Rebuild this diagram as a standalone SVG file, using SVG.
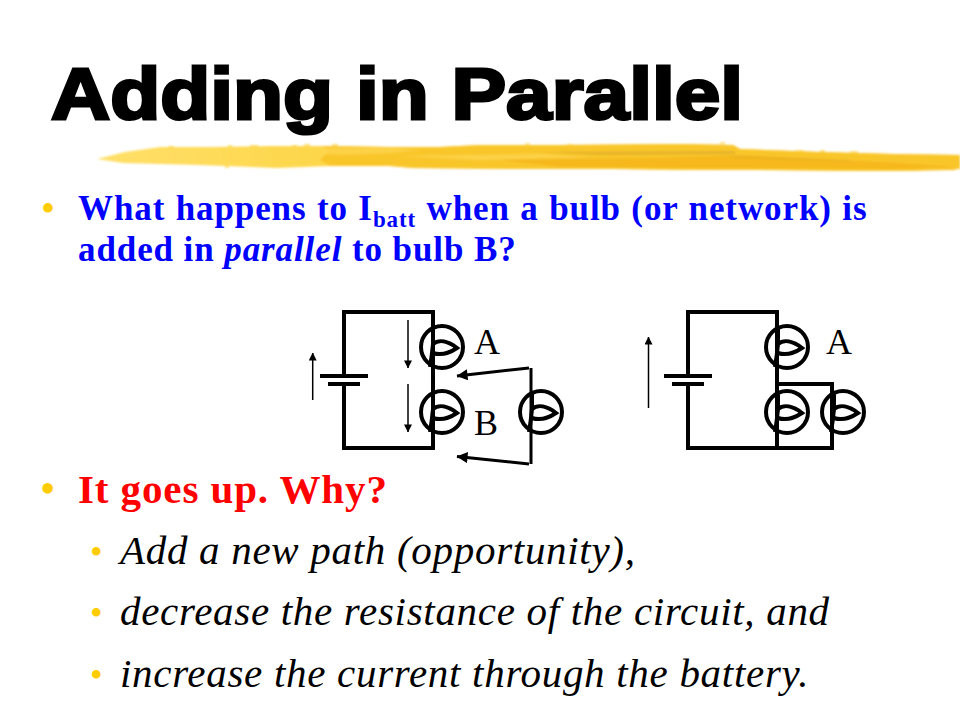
<svg xmlns="http://www.w3.org/2000/svg" width="960" height="720" viewBox="0 0 960 720">
<style>
.w{fill:none;stroke:#000;stroke-width:4;stroke-linecap:square;stroke-linejoin:miter}
.c{fill:none;stroke:#000;stroke-width:4}
.e{fill:none;stroke:#000;stroke-width:4}
.t{fill:none;stroke:#000;stroke-width:1.500}
.h{fill:none;stroke:#000;stroke-width:3}
.s{font-family:"Liberation Serif",serif}
.b{font-weight:bold;font-size:35px;fill:#0000ff;letter-spacing:.9px}
.i{font-style:italic;font-size:41px;fill:#000;letter-spacing:.7px}
.d{fill:#ffcc00}
.lb{font-size:36px;fill:#000}
.sp{fill:#fbd24a;opacity:.7}
</style>
<defs>
<linearGradient id="br" x1="0" x2="1" y1="0" y2="0">
<stop offset="0" stop-color="#ffe06a"/><stop offset=".27" stop-color="#fdd648"/><stop offset=".5" stop-color="#fbcc34"/><stop offset="1" stop-color="#f9bd22"/>
</linearGradient>
<filter id="soft" x="-2%" y="-30%" width="104%" height="160%"><feGaussianBlur stdDeviation="0.800"/></filter>
<marker id="ah" viewBox="0 0 10 10" refX="9.500" refY="5" markerWidth="8" markerHeight="8" markerUnits="userSpaceOnUse" orient="auto"><path d="M0 0L10 5L0 10Z" fill="#000"/></marker>
<marker id="ab" viewBox="0 0 12 12" refX="11.500" refY="6" markerWidth="12" markerHeight="11" markerUnits="userSpaceOnUse" orient="auto"><path d="M0 0L12 6L0 12Z" fill="#000"/></marker>
<g id="bulb"><circle r="21" class="e"/><path class="e" d="M-9 -21L-9 -3Q-10 8 -12 20"/><path class="e" d="M-9 -3C-3 -8 6 -6 15 1C6 7 -3 8 -9 6"/></g>
</defs>
<g id="brush" filter="url(#soft)">
<path fill="url(#br)" d="M97 159L125 152L160 147L210 147L270 146L323 146L390 147L440 147L480 145L560 145L680 144L733 145L740 149L820 152L893 154L960 155L960 162L955 170L900 171L860 171L760 170L680 170L613 169L513 169L413 168L390 166L330 166L277 168L200 165L123 163Z"/>
<path fill="#f9c62c" d="M323 146L390 147L440 147L480 145L560 145L680 144L733 145L740 149L820 152L893 154L960 155L960 169L900 171L760 170L613 169L513 169L413 168L390 166L330 166L320 160L328 152Z"/>
<path fill="#ffdb58" d="M323 148L390 148L420 150L390 153L340 155L325 154Z" opacity=".6"/>
<path fill="#d8a92a" d="M540 152L735 151L735 154L600 155Z" opacity=".6"/>
<path fill="#f5b41c" d="M500 160L660 158L740 155L900 163L955 167L900 169L700 168L560 167Z" opacity=".8"/>
<path fill="#ffdb58" d="M400 156L540 154L590 157L480 160Z" opacity=".6"/>
<path fill="#e2ae25" d="M730 156L850 160L850 161L735 158Z" opacity=".7"/>
<g class="sp">
<rect x="168" y="146" width="6" height="2"/><rect x="228" y="145" width="4" height="2"/><rect x="250" y="145" width="8" height="2"/><rect x="292" y="145" width="5" height="2"/><rect x="304" y="144" width="6" height="2"/><rect x="332" y="144" width="6" height="2"/><rect x="525" y="143" width="5" height="1.500"/><rect x="567" y="144" width="7" height="1.500"/><rect x="720" y="142" width="5" height="2"/><rect x="795" y="150" width="9" height="2"/><rect x="820" y="150" width="5" height="2"/><rect x="850" y="151" width="8" height="2"/><rect x="225" y="166" width="4" height="2"/>
</g>
</g>
<text x="51" y="119" font-family="'Liberation Sans',sans-serif" font-weight="bold" font-size="72" fill="#000" stroke="#000" stroke-width="3" textLength="692" lengthAdjust="spacingAndGlyphs">Adding in Parallel</text>
<text x="41" y="222" class="s d" font-size="40">•</text>
<text x="78" y="220" class="s b" xml:space="preserve" word-spacing=".8">What happens to I<tspan font-size="23" dy="7">batt</tspan><tspan dy="-7"> when a bulb (or network) is</tspan></text>
<text x="78" y="261" class="s b">added in <tspan font-style="italic">parallel</tspan> to bulb B?</text>
<text x="40" y="503" class="s d" font-size="44">•</text>
<text x="78" y="503" class="s" font-weight="bold" font-size="41" fill="#ff0000" letter-spacing=".9">It goes up. Why?</text>
<text x="90" y="564" class="s d" font-size="36">•</text>
<text x="120" y="564" class="s i">Add a new path (opportunity),</text>
<text x="90" y="625" class="s d" font-size="36">•</text>
<text x="120" y="625" class="s i">decrease the resistance of the circuit, and</text>
<text x="90" y="687" class="s d" font-size="36">•</text>
<text x="120" y="687" class="s i">increase the current through the battery.</text>
<g id="connectors">
<path class="w" d="M344 376V312H433V448H344V384"/>
<path class="c" d="M320 376H368M328 384H360"/>
<path class="t" d="M312.700 400V353" marker-end="url(#ah)"/>
<path class="t" d="M408 320V368" marker-end="url(#ah)"/>
<path class="t" d="M408 384V432" marker-end="url(#ah)"/>
<path class="h" d="M529 368L457 376" marker-end="url(#ab)"/>
<path class="h" d="M529 464L457 456.500" marker-end="url(#ab)"/>
<path class="h" d="M531 368V464"/>
<path class="w" d="M688 376V312H777V448H688V384"/>
<path class="c" d="M664 376H712M672 384H704"/>
<path class="w" d="M777 384H832V448H777"/>
<path class="t" d="M648.500 408V337" marker-end="url(#ah)"/>
</g>
<g id="bulb-a"><use href="#bulb" x="442" y="347"/></g>
<g id="bulb-b"><use href="#bulb" x="442" y="412"/></g>
<g id="bulb-new"><use href="#bulb" x="541" y="412"/></g>
<g id="bulb-a2"><use href="#bulb" x="787" y="347"/></g>
<g id="bulb-b2"><use href="#bulb" x="787" y="412"/></g>
<g id="bulb-c2"><use href="#bulb" x="843" y="412"/></g>
<text x="474" y="354" class="s lb">A</text>
<text x="474" y="435" class="s lb">B</text>
<text x="826" y="354" class="s lb">A</text>
</svg>
